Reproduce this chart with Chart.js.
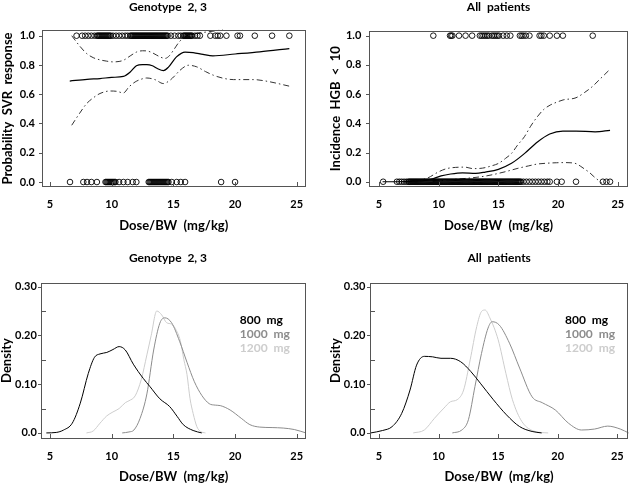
<!DOCTYPE html>
<html><head><meta charset="utf-8">
<script src="https://cdn.jsdelivr.net/npm/chart.js@4/dist/chart.umd.min.js"></script>
<style>
html,body{margin:0;padding:0;background:#fff;}
#wrap{position:relative;width:636px;height:483px;overflow:hidden;background:#fff;}
canvas{position:absolute;}
</style></head><body>
<div id="wrap">
<canvas id="c1" width="336" height="240" style="left:0px;top:0px;width:336px;height:240px"></canvas>
<canvas id="c2" width="318" height="240" style="left:318px;top:0px;width:318px;height:240px"></canvas>
<canvas id="c3" width="336" height="243" style="left:0px;top:240px;width:336px;height:243px"></canvas>
<canvas id="c4" width="318" height="243" style="left:318px;top:240px;width:318px;height:243px"></canvas>
</div>
<script>
// ---------- tick labels ----------
const xTicks = [5, 10, 15, 20, 25];
const probTicks = [0, 0.2, 0.4, 0.6, 0.8, 1.0];
const densTicks = [0, 0.10, 0.20, 0.30];
const densMinorTicks = [0.05, 0.15, 0.25];

// ---------- titles ----------
const panelTitles = ['Genotype  2, 3', 'All  patients', 'Genotype  2, 3', 'All  patients'];
const xTitle = 'Dose/BW  (mg/kg)';
const yTitles = ['Probability  SVR  response', 'Incidence  HGB  <  10', 'Density', 'Density'];
const doseLabels = ['800  mg', '1000  mg', '1200  mg'];

// ---------- Panel 1: Genotype 2,3 - SVR ----------
const svrFitX = [6.6, 8.0, 9.05, 10.0, 10.95, 11.5, 12.0, 12.5, 12.85, 13.3, 13.7, 14.2, 14.6, 15.25, 15.95, 16.6, 17.4, 18.2, 20.0, 22.0, 24.4];
const svrFitY = [0.69, 0.702, 0.707, 0.715, 0.722, 0.752, 0.795, 0.803, 0.803, 0.795, 0.776, 0.762, 0.785, 0.855, 0.888, 0.885, 0.872, 0.862, 0.875, 0.89, 0.912];
const svrUpX = [6.76, 7.4, 7.97, 8.5, 9.05, 9.6, 10.13, 10.6, 10.95, 11.5, 12.03, 12.5, 12.84, 13.25, 13.65, 14.0, 14.33, 14.7, 15.0, 15.5, 16.1, 16.6, 17.4, 18.3, 19.0];
const svrUpY = [1.0, 0.93, 0.878, 0.85, 0.835, 0.826, 0.821, 0.824, 0.832, 0.862, 0.889, 0.897, 0.896, 0.885, 0.867, 0.852, 0.845, 0.865, 0.90, 0.96, 1.0, 1.012, 1.022, 1.032, 1.04];
const svrLoX = [6.76, 7.4, 7.97, 8.5, 9.05, 9.86, 10.4, 10.95, 11.4, 11.9, 12.4, 12.84, 13.5, 14.19, 14.73, 15.1, 15.54, 16.22, 16.9, 17.6, 18.24, 19.0, 19.87, 21.5, 22.5, 24.41];
const svrLoY = [0.388, 0.47, 0.536, 0.575, 0.605, 0.622, 0.62, 0.609, 0.65, 0.684, 0.703, 0.711, 0.70, 0.673, 0.696, 0.725, 0.764, 0.798, 0.787, 0.755, 0.73, 0.71, 0.70, 0.70, 0.69, 0.655];
const svrRespX = [7.15, 7.6, 7.85, 8.1, 8.35, 8.6, 8.8, 8.88, 8.96, 9.04, 9.12, 9.2, 9.28, 9.36, 9.44, 9.52, 9.6, 9.68, 9.76, 9.84, 9.92, 10.1, 10.35, 10.6, 10.85, 11.1, 11.3, 11.5, 11.58, 11.66, 11.74, 11.82, 11.9, 11.98, 12.06, 12.14, 12.22, 12.3, 12.38, 12.46, 12.54, 12.62, 12.7, 12.78, 12.86, 12.94, 13.02, 13.1, 13.18, 13.26, 13.34, 13.42, 13.5, 13.58, 13.66, 13.74, 13.82, 13.9, 13.98, 14.06, 14.14, 14.22, 14.3, 14.38, 14.46, 14.54, 14.8, 15.1, 15.4, 15.6, 15.8, 15.88, 15.96, 16.04, 16.12, 16.2, 16.28, 16.36, 16.44, 16.52, 16.75, 16.95, 17.15, 18.0, 18.4, 18.6, 18.8, 19.3, 20.2, 20.4, 21.6, 23.0, 24.4];
const svrNonRespX = [6.62, 7.7, 8.0, 8.35, 8.8, 9.5, 9.58, 9.66, 9.74, 9.82, 9.9, 9.98, 10.06, 10.14, 10.22, 10.3, 10.6, 10.95, 11.3, 11.7, 12.0, 13.0, 13.08, 13.16, 13.24, 13.32, 13.4, 13.48, 13.56, 13.64, 13.72, 13.8, 13.88, 13.96, 14.04, 14.12, 14.2, 14.28, 14.36, 14.44, 14.52, 14.6, 14.87, 15.27, 15.6, 15.95, 18.87, 20.0];

// ---------- Panel 2: All patients - HGB < 10 ----------
const hgbFitX = [5.3, 6.5, 7.5, 8.5, 9.3, 10.2, 11.0, 12.0, 13.1, 13.9, 15.0, 16.1, 17.2, 18.3, 19.3, 20.4, 21.5, 23.1, 24.35];
const hgbFitY = [0, 0, 0.002, 0.006, 0.015, 0.04, 0.053, 0.061, 0.057, 0.066, 0.085, 0.126, 0.194, 0.274, 0.327, 0.347, 0.347, 0.342, 0.352];
const hgbUpX = [8.0, 9.06, 10.0, 10.68, 11.4, 12.2, 12.85, 13.66, 14.4, 15.02, 15.6, 16.1, 16.6, 17.18, 17.7, 18.26, 18.8, 19.34, 19.9, 20.42, 21.5, 22.2, 22.86, 23.6, 24.35];
const hgbUpY = [0.003, 0.025, 0.068, 0.09, 0.098, 0.1, 0.09, 0.093, 0.108, 0.126, 0.16, 0.194, 0.25, 0.308, 0.38, 0.445, 0.495, 0.525, 0.545, 0.56, 0.575, 0.61, 0.651, 0.71, 0.77];
const hgbLoX = [9.5, 10.68, 12.3, 13.93, 15.55, 16.64, 17.5, 18.26, 19.1, 19.88, 20.5, 21.0, 21.5, 21.9, 22.3, 22.6, 23.0, 23.4, 23.67];
const hgbLoY = [0.002, 0.012, 0.023, 0.039, 0.068, 0.092, 0.108, 0.121, 0.127, 0.13, 0.131, 0.13, 0.124, 0.105, 0.082, 0.065, 0.035, 0.008, -0.01];
const hgbYesX = [9.55, 10.95, 11.05, 11.15, 11.7, 12.25, 12.8, 13.45, 13.6, 13.75, 13.9, 14.05, 14.2, 14.45, 14.6, 14.75, 14.9, 15.05, 15.4, 15.7, 16.0, 16.8, 16.95, 17.1, 17.3, 17.6, 18.45, 18.6, 18.8, 19.3, 19.9, 20.4, 22.9];
const hgbNoX = [5.35, 6.5, 6.7, 6.9, 7.1, 7.3, 7.45, 7.53, 7.61, 7.69, 7.77, 7.85, 7.93, 8.01, 8.09, 8.17, 8.25, 8.33, 8.41, 8.49, 8.57, 8.65, 8.73, 8.81, 8.89, 8.97, 9.05, 9.13, 9.21, 9.29, 9.37, 9.45, 9.53, 9.61, 9.69, 9.77, 9.85, 9.93, 10.01, 10.09, 10.17, 10.25, 10.33, 10.41, 10.49, 10.57, 10.65, 10.73, 10.81, 10.89, 10.97, 11.05, 11.13, 11.21, 11.29, 11.37, 11.45, 11.53, 11.61, 11.69, 11.77, 11.85, 11.93, 12.01, 12.09, 12.17, 12.25, 12.33, 12.41, 12.49, 12.57, 12.65, 12.73, 12.81, 12.89, 12.97, 13.05, 13.13, 13.21, 13.29, 13.37, 13.45, 13.53, 13.61, 13.69, 13.77, 13.85, 13.93, 14.01, 14.09, 14.17, 14.25, 14.33, 14.41, 14.49, 14.57, 14.65, 14.73, 14.81, 14.89, 14.97, 15.05, 15.13, 15.21, 15.29, 15.37, 15.45, 15.53, 15.61, 15.69, 15.77, 15.85, 15.93, 16.01, 16.09, 16.17, 16.25, 16.33, 16.41, 16.49, 16.57, 16.65, 16.73, 16.81, 16.9, 17.1, 17.35, 17.6, 17.85, 18.1, 18.35, 18.6, 18.85, 19.1, 19.3, 19.9, 20.3, 21.5, 23.75, 24.05, 24.35];

// ---------- Panel 3: Genotype 2,3 densities ----------
const g800X = [4.7, 5.5, 6.1, 6.8, 7.45, 8.1, 8.6, 9.05, 9.6, 10.1, 10.6, 11.1, 11.75, 12.55, 13.1, 13.9, 14.7, 15.3, 15.8, 16.6, 17.3];
const g800Y = [0, 0.001, 0.006, 0.02, 0.061, 0.122, 0.155, 0.162, 0.165, 0.171, 0.177, 0.17, 0.141, 0.112, 0.095, 0.07, 0.054, 0.034, 0.017, 0.005, 0];
const g1000X = [10.85, 11.4, 11.8, 12.3, 12.85, 13.4, 13.9, 14.3, 14.85, 15.5, 16.1, 16.7, 17.3, 17.9, 18.4, 18.8, 19.6, 20.5, 21.2, 22.0, 23.0, 23.9, 24.8, 25.75];
const g1000Y = [0, 0.002, 0.006, 0.03, 0.08, 0.17, 0.225, 0.236, 0.226, 0.188, 0.145, 0.105, 0.077, 0.06, 0.057, 0.056, 0.047, 0.03, 0.017, 0.012, 0.011, 0.01, 0.007, 0];
const g1200X = [7.95, 8.5, 9.05, 9.6, 10.1, 10.6, 11.1, 11.4, 11.9, 12.4, 12.85, 13.2, 13.65, 14.05, 14.45, 14.85, 15.2, 15.55, 15.85, 16.1, 16.35, 16.6, 16.9, 17.2, 17.6];
const g1200Y = [0, 0.004, 0.02, 0.035, 0.043, 0.05, 0.062, 0.066, 0.076, 0.11, 0.16, 0.2, 0.25, 0.242, 0.226, 0.223, 0.212, 0.19, 0.15, 0.12, 0.07, 0.04, 0.013, 0.003, 0];

// ---------- Panel 4: All patients densities ----------
const a800X = [4.3, 5.3, 6.1, 6.9, 7.6, 8.15, 8.8, 9.5, 10.2, 11.0, 11.85, 12.7, 13.5, 14.6, 15.7, 16.8, 17.85, 18.65];
const a800Y = [0, 0.005, 0.013, 0.04, 0.088, 0.139, 0.157, 0.156, 0.153, 0.153, 0.146, 0.126, 0.102, 0.068, 0.037, 0.013, 0.003, 0];
const a1000X = [11.15, 11.95, 12.5, 13.05, 13.6, 14.15, 14.5, 15.1, 15.95, 16.8, 17.85, 18.7, 19.8, 20.9, 22.0, 23.1, 24.2, 25.25, 25.95];
const a1000Y = [0, 0.006, 0.027, 0.095, 0.163, 0.215, 0.228, 0.221, 0.184, 0.133, 0.074, 0.062, 0.047, 0.02, 0.006, 0.008, 0.014, 0.008, 0];
const a1200X = [7.87, 8.8, 9.65, 10.45, 11.0, 11.55, 12.1, 12.65, 13.2, 13.6, 13.9, 14.3, 15.0, 15.65, 16.2, 17.0, 18.1, 19.2];
const a1200Y = [0, 0.006, 0.03, 0.051, 0.064, 0.068, 0.088, 0.15, 0.218, 0.249, 0.252, 0.236, 0.191, 0.122, 0.068, 0.023, 0.003, 0];

// ---------- styling ----------
const FAM = 'Lato, "Open Sans", sans-serif';
const tickFont = {family: FAM, weight: 'bold', size: 11};
const axisTitleFont = {family: FAM, weight: 'bold', size: 13, lineHeight: 1};
const titleFont = {family: FAM, weight: 'bold', size: 12};
const doseColors = ['#000000', '#8c8c8c', '#cdcdcd'];
const frameColor = '#555555';

const pts = (xs, ys) => xs.map((x, i) => ({x: x, y: ys[i]}));
const rug = (xs, level) => xs.map(x => ({x: x, y: level}));

function curve(xs, ys, color, dash, width, label) {
  return {label: label || '', data: pts(xs, ys), showLine: true, borderColor: color, backgroundColor: color,
    borderWidth: width, borderDash: dash, pointRadius: 0, fill: false,
    cubicInterpolationMode: 'monotone', clip: false, xAxisID: 'x', yAxisID: 'y'};
}
function rugSet(xs, level) {
  return {data: rug(xs, level), showLine: false, pointStyle: 'circle', pointRadius: 2.8,
    borderColor: '#000', borderWidth: 0.9, backgroundColor: 'rgba(0,0,0,0)', clip: false,
    xAxisID: 'x', yAxisID: 'y'};
}
const DASHDOT = [6, 3, 1.5, 3];

// Frame, tick marks (from the chart's own scales) and dose legend
const panelDecorPlugin = {
  id: 'panelDecor',
  afterDatasetsDraw(chart, args, opts) {
    const ctx = chart.ctx, a = chart.chartArea;
    const l = Math.round(a.left), t = Math.round(a.top);
    const w = Math.round(a.width), h = Math.round(a.height);
    ctx.save();
    ctx.fillStyle = frameColor;
    ctx.fillRect(l, t, w, 1);
    ctx.fillRect(l, t + h - 1, w, 1);
    ctx.fillRect(l, t, 1, h);
    ctx.fillRect(l + w - 1, t, 1, h);
    const xs = chart.scales.x, ys = chart.scales.y, ym = chart.scales.yMinor;
    xs.ticks.forEach(tk => { ctx.fillRect(Math.round(xs.getPixelForValue(tk.value)), t + h - 5, 1, 4); });
    ys.ticks.forEach(tk => { ctx.fillRect(l - 3, Math.round(ys.getPixelForValue(tk.value)), 3, 1); });
    if (ym) ym.ticks.forEach(tk => { ctx.fillRect(l + 1, Math.round(ym.getPixelForValue(tk.value)), 4, 1); });
    if (opts && opts.show) {
      ctx.font = 'bold 12px ' + FAM;
      ctx.textBaseline = 'middle'; ctx.textAlign = 'left';
      chart.data.datasets.forEach((ds, i) => {
        ctx.fillStyle = ds.borderColor;
        ctx.fillText(ds.label, a.left + opts.fx * a.width, a.top + opts.fy * a.height + i * opts.gap);
      });
    }
    ctx.restore();
  }
};

function makePanel(id, c) {
  const scales = {
    x: {
      type: 'linear', position: 'bottom', min: c.xMin, max: c.xMax,
      afterBuildTicks: s => { s.ticks = xTicks.map(v => ({value: v})); },
      afterFit: s => { s.height = c.xH; },
      ticks: {font: tickFont, color: '#000', padding: c.xLabPad, autoSkip: false, maxRotation: 0, callback: v => String(v)},
      grid: {display: false, drawTicks: false},
      border: {display: false},
      title: {display: true, text: xTitle, font: axisTitleFont, color: '#000', padding: {top: 0, bottom: c.xTitlePad}}
    },
    y: {
      type: 'linear', position: 'left', weight: 1, min: c.yMin, max: c.yMax,
      afterBuildTicks: s => { s.ticks = c.yTicks.map(v => ({value: v})); },
      afterFit: s => { s.width = c.yW; },
      ticks: {font: tickFont, color: '#000', padding: c.yLabPad, autoSkip: false, callback: c.yFmt},
      grid: {display: false, drawTicks: false},
      border: {display: false},
      title: {display: true, text: c.yTitle, font: axisTitleFont, color: '#000', padding: {top: c.yTitlePad, bottom: 0}}
    }
  };
  if (c.minor) {
    scales.yMinor = {
      type: 'linear', position: 'left', weight: 0, min: c.yMin, max: c.yMax,
      afterBuildTicks: s => { s.ticks = densMinorTicks.map(v => ({value: v})); },
      afterFit: s => { s.width = 0; },
      ticks: {display: false}, grid: {display: false, drawTicks: false}, border: {display: false}
    };
  }
  if (c.padRight) {
    scales.pad = {
      type: 'linear', position: 'right', min: 0, max: 1,
      afterFit: s => { s.width = c.padRight; },
      ticks: {display: false}, grid: {display: false, drawTicks: false}, border: {display: false}
    };
  }
  return new Chart(document.getElementById(id), {
    type: 'scatter',
    data: {datasets: c.datasets},
    options: {
      responsive: false, animation: false, devicePixelRatio: 1,
      layout: {padding: 0},
      plugins: {
        legend: {display: false}, tooltip: {enabled: false},
        title: {display: true, text: c.title, fullSize: c.titleFull, font: titleFont, color: '#000',
          padding: {top: c.tTop, bottom: c.tBottom}},
        panelDecor: c.legend || {show: false}
      },
      scales: scales
    },
    plugins: [panelDecorPlugin]
  });
}

const probFmt = v => v.toFixed(1);
const densFmt = v => (v === 0 ? '0.0' : v.toFixed(2));

function drawAll() {
  makePanel('c1', {
    title: panelTitles[0], titleFull: true, tTop: 0, tBottom: 15.6,
    xMin: 4.35, xMax: 25.71, xH: 53, xLabPad: 11, xTitlePad: 7.5,
    yMin: -0.034, yMax: 1.039, yTicks: probTicks, yFmt: probFmt, yW: 42, yLabPad: 7, yTitlePad: 1.5,
    yTitle: yTitles[0], padRight: 30.5,
    datasets: [
      rugSet(svrRespX, 1), rugSet(svrNonRespX, 0),
      curve(svrUpX, svrUpY, '#333', DASHDOT, 1),
      curve(svrLoX, svrLoY, '#333', DASHDOT, 1),
      curve(svrFitX, svrFitY, '#000', [], 1.2)
    ]
  });
  makePanel('c2', {
    title: panelTitles[1], titleFull: false, tTop: 0, tBottom: 16.3,
    xMin: 4.19, xMax: 25.84, xH: 53.3, xLabPad: 11.5, xTitlePad: 7.5,
    yMin: -0.034, yMax: 1.034, yTicks: probTicks, yFmt: probFmt, yW: 51.3, yLabPad: 8, yTitlePad: 11.5,
    yTitle: yTitles[1],
    datasets: [
      rugSet(hgbYesX, 1), rugSet(hgbNoX, 0),
      curve(hgbUpX, hgbUpY, '#333', DASHDOT, 1),
      curve(hgbLoX, hgbLoY, '#333', DASHDOT, 1),
      curve(hgbFitX, hgbFitY, '#000', [], 1.2)
    ]
  });
  makePanel('c3', {
    title: panelTitles[2], titleFull: true, tTop: 10.5, tBottom: 17.8,
    xMin: 4.29, xMax: 25.75, xH: 44.7, xLabPad: 12, xTitlePad: 0,
    yMin: -0.011, yMax: 0.308, yTicks: densTicks, yFmt: densFmt, yW: 41.3, yLabPad: 4.5, yTitlePad: 0.5,
    yTitle: yTitles[2], padRight: 30, minor: true,
    legend: {show: true, fx: 0.75, fy: 0.24, gap: 14},
    datasets: [
      curve(g800X, g800Y, doseColors[0], [], 1, doseLabels[0]),
      curve(g1000X, g1000Y, doseColors[1], [], 1, doseLabels[1]),
      curve(g1200X, g1200Y, doseColors[2], [], 1, doseLabels[2])
    ]
  });
  makePanel('c4', {
    title: panelTitles[3], titleFull: false, tTop: 10.5, tBottom: 17.8,
    xMin: 4.24, xMax: 25.92, xH: 44.7, xLabPad: 12, xTitlePad: 0,
    yMin: -0.011, yMax: 0.308, yTicks: densTicks, yFmt: densFmt, yW: 52, yLabPad: 4.5, yTitlePad: 11.5,
    yTitle: yTitles[3], minor: true,
    legend: {show: true, fx: 0.755, fy: 0.24, gap: 14},
    datasets: [
      curve(a800X, a800Y, doseColors[0], [], 1, doseLabels[0]),
      curve(a1000X, a1000Y, doseColors[1], [], 1, doseLabels[1]),
      curve(a1200X, a1200Y, doseColors[2], [], 1, doseLabels[2])
    ]
  });
}

if (document.fonts && document.fonts.load) {
  Promise.all([document.fonts.load('bold 12px Lato'), document.fonts.load('bold 13px Lato')])
    .then(drawAll, drawAll);
} else {
  drawAll();
}
</script>
</body></html>
